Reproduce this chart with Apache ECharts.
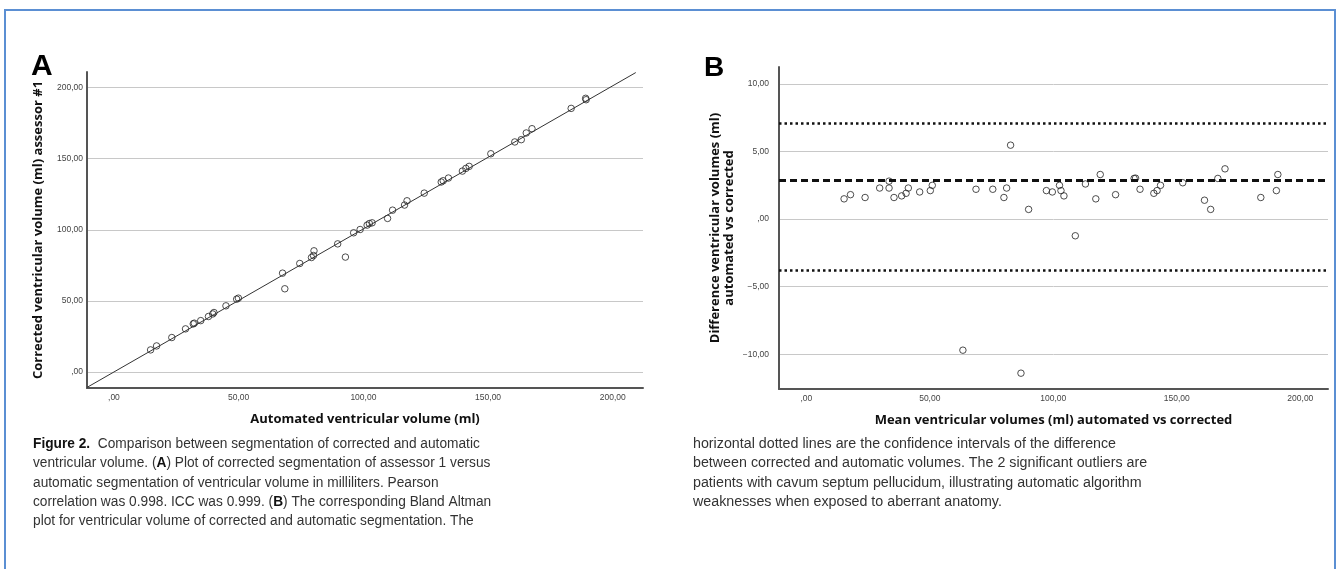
<!DOCTYPE html>
<html>
<head>
<meta charset="utf-8">
<script src="https://cdn.jsdelivr.net/npm/echarts@6/dist/echarts.min.js"></script>
<style>
  html, body { margin: 0; padding: 0; background: #fff; }
  #chart { width: 1340px; height: 569px; }
</style>
</head>
<body>
<div id="chart"></div>
<script>
// panel A: automated vs corrected volume (ml)
const autoVol = [14.7, 17.1, 23.2, 28.7, 31.8, 32.2, 34.8, 37.9, 39.6, 40.1, 44.9, 49.2, 49.9,
  67.6, 68.5, 74.5, 79.2, 80.0, 80.2, 89.7, 92.8, 96.1, 98.7, 101.5, 102.4, 103.5, 109.7,
  111.7, 116.5, 117.5, 124.4, 131.2, 132.0, 134.1, 139.7, 141.1, 142.4, 151.1, 160.7, 163.3,
  165.3, 167.6, 183.3, 189.1, 189.3];
const corrVol = [15.5, 18.3, 24.2, 30.3, 33.8, 34.3, 36.1, 39.0, 40.8, 41.8, 46.5, 51.2, 51.9,
  69.5, 58.5, 76.3, 80.5, 81.9, 85.2, 90.1, 80.8, 97.9, 100.2, 103.3, 104.4, 104.9, 108.0,
  113.8, 117.4, 120.4, 125.8, 133.6, 134.5, 136.4, 141.3, 143.2, 144.6, 153.5, 161.8, 163.4,
  168.1, 171.1, 185.4, 192.5, 191.5];
// reference line drawn in panel A (end points)
const refLineX = [-10.8, 209.2];
const refLineY = [-10.9, 210.6];

// panel B: Bland Altman
const meanVol = [15.3, 17.9, 23.8, 29.7, 33.5, 33.5, 35.5, 38.6, 40.4, 41.3, 45.9, 50.2, 51.0,
  63.4, 68.7, 75.5, 80.0, 81.1, 82.7, 86.9, 90.0, 97.2, 99.6, 102.5, 103.1, 104.3, 108.9,
  113.0, 117.2, 119.0, 125.2, 132.7, 133.3, 135.1, 140.7, 142.0, 143.4, 152.4, 161.2, 163.7,
  166.6, 169.5, 184.0, 190.3, 190.9];
const diffVol = [1.49, 1.80, 1.59, 2.29, 2.80, 2.29, 1.59, 1.71, 1.90, 2.29, 2.00, 2.10, 2.49,
  -9.7, 2.20, 2.20, 1.59, 2.29, 5.46, -11.4, 0.71, 2.10, 2.00, 2.49, 2.10, 1.71, -1.24,
  2.59, 1.49, 3.29, 1.80, 3.00, 3.02, 2.20, 1.90, 2.10, 2.49, 2.68, 1.39, 0.71,
  3.00, 3.71, 1.59, 2.10, 3.29];
const meanDiff = 2.85;
const upperLimit = 7.1;
const lowerLimit = -3.8;

const captionLeft = [
  "{b|Figure 2.}  Comparison between segmentation of corrected and automatic",
  "ventricular volume. ({b|A}) Plot of corrected segmentation of assessor 1 versus",
  "automatic segmentation of ventricular volume in milliliters. Pearson",
  "correlation was 0.998. ICC was 0.999. ({b|B}) The corresponding Bland Altman",
  "plot for ventricular volume of corrected and automatic segmentation. The"
];
const captionRight = [
  "horizontal dotted lines are the confidence intervals of the difference",
  "between corrected and automatic volumes. The 2 significant outliers are",
  "patients with cavum septum pellucidum, illustrating automatic algorithm",
  "weaknesses when exposed to aberrant anatomy."
];

function fmt(v) {
  const a = Math.abs(v);
  return (v < 0 ? "\u2212" : "") + (a === 0 ? "" : a) + ",00";
}

const tickLabel = {
  fontFamily: "Liberation Sans",
  fontSize: 8.5,
  color: "#444",
  formatter: fmt,
  showMinLabel: false,
  showMaxLabel: false
};
const axisName = {
  fontFamily: "Open Sans",
  fontWeight: "bold",
  fontSize: 13,
  color: "#111",
  lineHeight: 14
};
const axisLine = { show: true, onZero: false, lineStyle: { color: "#555", width: 2 } };
const gridLine = {
  show: true,
  showMinLine: false,
  showMaxLine: false,
  lineStyle: { color: "#c8c8c8", width: 1 }
};
const circle = {
  color: "rgba(0,0,0,0)",
  borderColor: "#222",
  borderWidth: 1
};
// caption: arial-like text squeezed to a condensed width
const capFont = {
  fontFamily: "Liberation Sans",
  fontSize: 15.5,
  lineHeight: 19.3,
  fill: "#333",
  verticalAlign: "top"
};

const option = {
  animation: false,
  grid: [
    { left: 87, top: 72, width: 556, height: 316 },
    { left: 779, top: 67, width: 549, height: 322 }
  ],
  xAxis: [
    {
      gridIndex: 0,
      type: "value",
      min: -10.8,
      max: 212.1,
      axisLine: axisLine,
      axisTick: { show: false },
      splitLine: { show: false },
      axisLabel: Object.assign({ margin: 5 }, tickLabel),
      name: "Automated ventricular volume (ml)",
      nameLocation: "middle",
      nameGap: 24,
      nameTextStyle: axisName
    },
    {
      gridIndex: 1,
      type: "value",
      min: -11.05,
      max: 211.2,
      axisLine: axisLine,
      axisTick: { show: false },
      splitLine: { show: false },
      axisLabel: Object.assign({ margin: 5 }, tickLabel),
      name: "Mean ventricular volumes (ml) automated vs corrected",
      nameLocation: "middle",
      nameGap: 24,
      nameTextStyle: axisName
    }
  ],
  yAxis: [
    {
      gridIndex: 0,
      type: "value",
      min: -11.3,
      max: 211,
      axisLine: axisLine,
      axisTick: { show: false },
      splitLine: gridLine,
      axisLabel: Object.assign({ margin: 4 }, tickLabel),
      name: "Corrected ventricular volume (ml) assessor #1",
      nameLocation: "middle",
      nameGap: 42,
      nameTextStyle: axisName
    },
    {
      gridIndex: 1,
      type: "value",
      min: -12.57,
      max: 11.24,
      axisLine: axisLine,
      axisTick: { show: false },
      splitLine: gridLine,
      axisLabel: Object.assign({ margin: 10 }, tickLabel),
      name: "Difference ventricular volumes (ml)\nautomated vs corrected",
      nameLocation: "middle",
      nameGap: 43,
      nameTextStyle: axisName
    }
  ],
  series: [
    {
      type: "line",
      xAxisIndex: 0,
      yAxisIndex: 0,
      silent: true,
      symbol: "none",
      lineStyle: { color: "#333", width: 1 },
      data: refLineX.map((x, i) => [x, refLineY[i]])
    },
    {
      type: "scatter",
      xAxisIndex: 0,
      yAxisIndex: 0,
      symbol: "circle",
      symbolSize: 6.5,
      itemStyle: circle,
      data: autoVol.map((x, i) => [x, corrVol[i]])
    },
    {
      type: "scatter",
      xAxisIndex: 1,
      yAxisIndex: 1,
      symbol: "circle",
      symbolSize: 6.5,
      itemStyle: circle,
      data: meanVol.map((x, i) => [x, diffVol[i]]),
      markLine: {
        silent: true,
        symbol: ["none", "none"],
        label: { show: false },
        data: [
          { yAxis: meanDiff, lineStyle: { color: "#111", width: 3, type: [7, 4] } },
          { yAxis: upperLimit, lineStyle: { color: "#111", width: 2.5, type: [2.5, 3] } },
          { yAxis: lowerLimit, lineStyle: { color: "#111", width: 2.5, type: [2.5, 3] } }
        ]
      }
    }
  ],
  graphic: [
    {
      type: "rect",
      silent: true,
      shape: { x: 5, y: 10, width: 1330, height: 600 },
      style: { fill: "none", stroke: "#5b8fd3", lineWidth: 2 }
    },
    {
      type: "text",
      left: 31,
      top: 52,
      style: { text: "A", fontFamily: "Liberation Sans", fontWeight: "bold", fontSize: 30, fill: "#000" }
    },
    {
      type: "text",
      left: 704,
      top: 54,
      style: { text: "B", fontFamily: "Liberation Sans", fontWeight: "bold", fontSize: 28, fill: "#000" }
    },
    {
      type: "text",
      x: 33,
      y: 434,
      scaleX: 0.885,
      style: Object.assign({
        text: captionLeft.join("\n"),
        rich: {
          b: { fontFamily: "Liberation Sans", fontWeight: "bold", fontSize: 15.5, fill: "#111", lineHeight: 19.3 }
        }
      }, capFont)
    },
    {
      type: "text",
      x: 693,
      y: 434,
      scaleX: 0.92,
      style: Object.assign({ text: captionRight.join("\n") }, capFont)
    }
  ]
};

const chart = echarts.init(document.getElementById("chart"));
chart.setOption(option);
</script>
</body>
</html>
